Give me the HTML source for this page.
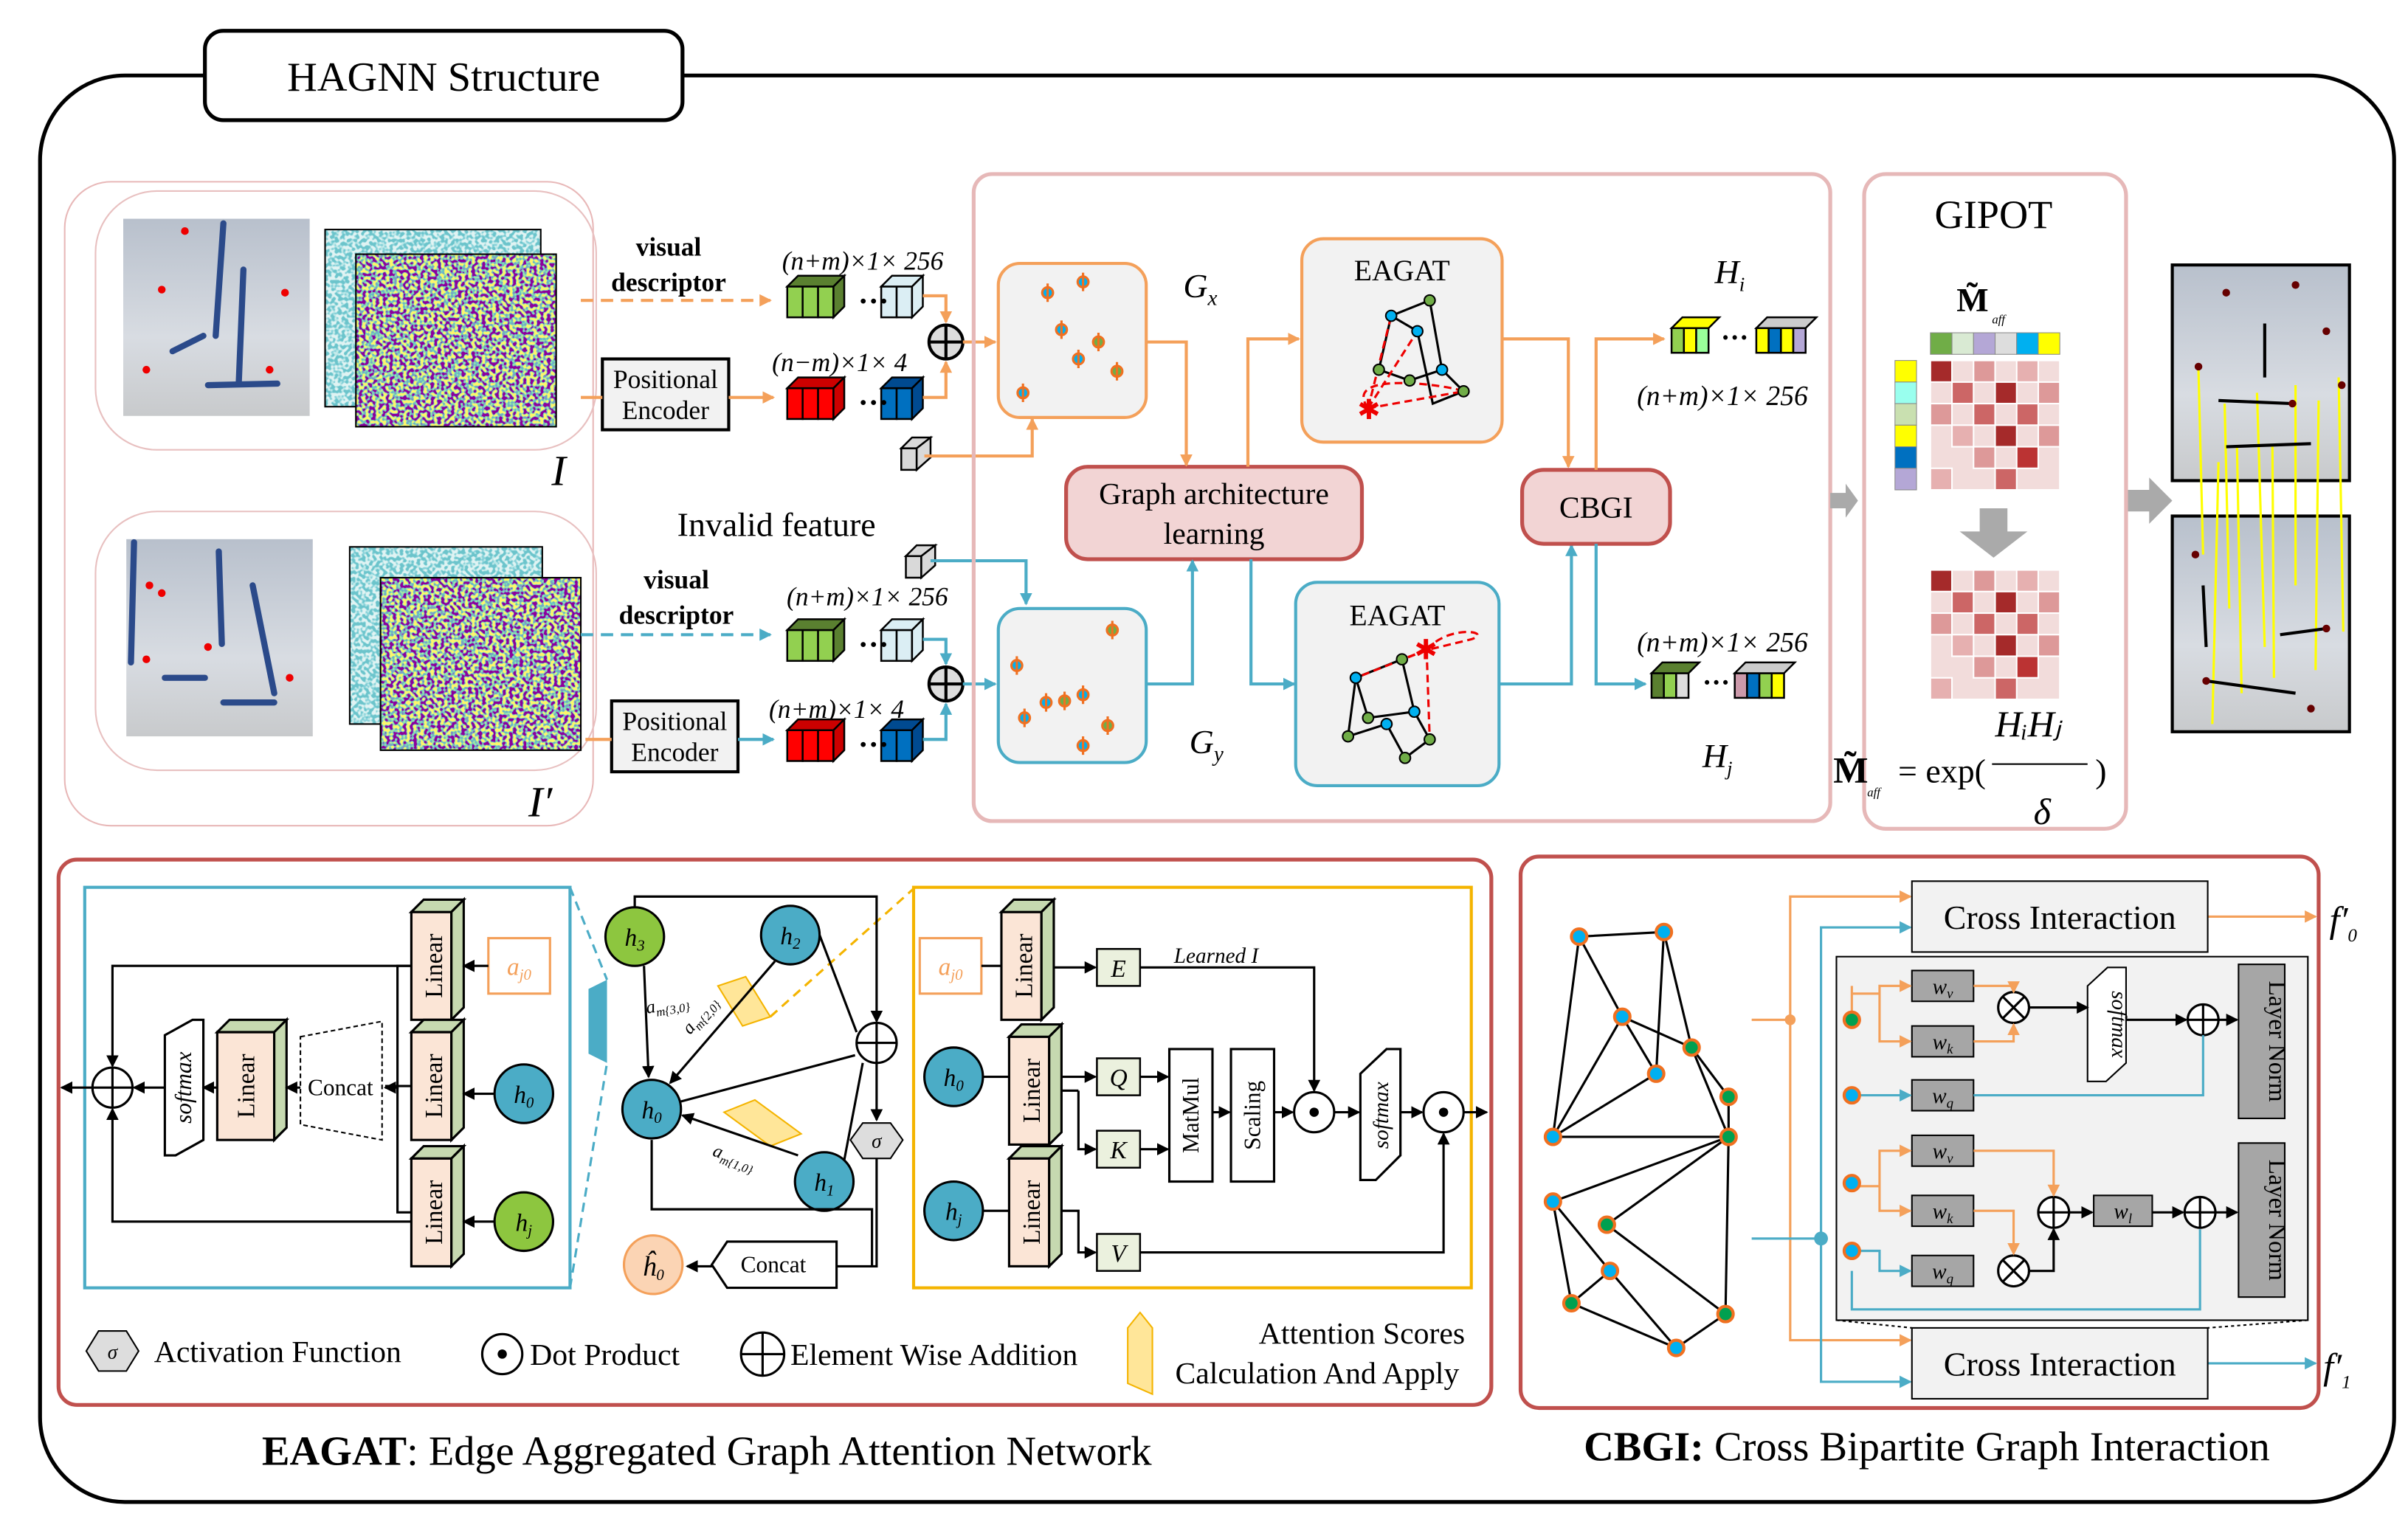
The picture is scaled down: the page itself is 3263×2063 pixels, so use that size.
<!DOCTYPE html>
<html><head><meta charset="utf-8"><style>
html,body{margin:0;padding:0;background:#fff;}
svg{display:block;}
text{font-family:"Liberation Serif",serif;}
</style></head><body>
<svg width="3263" height="2063" viewBox="0 0 1563 988" preserveAspectRatio="none" xmlns="http://www.w3.org/2000/svg">
<defs>
<filter id="nz" x="0" y="0" width="100%" height="100%">
<feTurbulence type="fractalNoise" baseFrequency="0.45" numOctaves="1" seed="3"/>
<feColorMatrix type="matrix" values="4 0 0 0 -1.5  4 0 0 0 -1.5  4 0 0 0 -1.5  0 0 0 0 1"/>
<feComponentTransfer><feFuncR type="discrete" tableValues="0.27 0.23 0.13 0.37 0.99"/><feFuncG type="discrete" tableValues="0.0 0.32 0.57 0.79 0.91"/><feFuncB type="discrete" tableValues="0.33 0.55 0.55 0.38 0.15"/></feComponentTransfer>
</filter>
<filter id="nz2" x="0" y="0" width="100%" height="100%">
<feTurbulence type="fractalNoise" baseFrequency="0.45" numOctaves="1" seed="7"/>
<feColorMatrix type="matrix" values="4 0 0 0 -1.5  4 0 0 0 -1.5  4 0 0 0 -1.5  0 0 0 0 1"/>
<feComponentTransfer><feFuncR type="discrete" tableValues="0.15 0.25 0.5 0.75"/><feFuncG type="discrete" tableValues="0.55 0.65 0.8 0.9"/><feFuncB type="discrete" tableValues="0.6 0.7 0.8 0.9"/></feComponentTransfer>
</filter>
<marker id="ao" markerWidth="8" markerHeight="8" refX="7" refY="4" orient="auto" markerUnits="userSpaceOnUse"><path d="M0,0 L8,4 L0,8z" fill="#f4a05a"/></marker>
<marker id="ab" markerWidth="8" markerHeight="8" refX="7" refY="4" orient="auto" markerUnits="userSpaceOnUse"><path d="M0,0 L8,4 L0,8z" fill="#4bacc6"/></marker>
<marker id="ak" markerWidth="8" markerHeight="8" refX="7" refY="4" orient="auto" markerUnits="userSpaceOnUse"><path d="M0,0 L8,4 L0,8z" fill="#000"/></marker>
<linearGradient id="sky" x1="0" y1="0" x2="0" y2="1"><stop offset="0" stop-color="#b8c0cc"/><stop offset="0.6" stop-color="#d8dce2"/><stop offset="1" stop-color="#c8cacc"/></linearGradient>
</defs>

<rect x="26" y="49" width="1528" height="926" rx="55" fill="none" stroke="#000" stroke-width="2.5"/>
<rect x="133" y="20" width="310" height="58" rx="12" fill="#fff" stroke="#000" stroke-width="2.5"/>
<text x="288" y="59" font-size="27" text-anchor="middle">HAGNN Structure</text>

<rect x="42" y="118" width="343" height="418" rx="30" fill="none" stroke="#e8b8b8"/>
<rect x="62" y="124" width="325" height="168" rx="40" fill="none" stroke="#e8c0c0"/>
<rect x="62" y="332" width="325" height="168" rx="40" fill="none" stroke="#e8c0c0"/>
<rect x="80" y="142" width="121" height="128" fill="url(#sky)"/>
<rect x="82" y="350" width="121" height="128" fill="url(#sky)"/>
<g stroke="#2b4a8a" stroke-width="4" stroke-linecap="round">
<line x1="145" y1="145" x2="140" y2="218"/><line x1="158" y1="175" x2="155" y2="248"/><line x1="112" y1="228" x2="132" y2="218"/><line x1="135" y1="250" x2="180" y2="249"/>
<line x1="87" y1="352" x2="85" y2="430"/><line x1="142" y1="358" x2="144" y2="418"/><line x1="164" y1="380" x2="178" y2="450"/><line x1="107" y1="440" x2="133" y2="440"/><line x1="145" y1="456" x2="178" y2="456"/>
</g>
<g fill="#e00">
<circle cx="105" cy="188" r="2.5"/><circle cx="120" cy="150" r="2.5"/><circle cx="185" cy="190" r="2.5"/><circle cx="95" cy="240" r="2.5"/><circle cx="175" cy="240" r="2.5"/>
<circle cx="97" cy="380" r="2.5"/><circle cx="105" cy="385" r="2.5"/><circle cx="135" cy="420" r="2.5"/><circle cx="188" cy="440" r="2.5"/><circle cx="95" cy="428" r="2.5"/>
</g>
<rect x="211" y="149" width="140" height="115" fill="#3a9aa8" filter="url(#nz2)"/><rect x="211" y="149" width="140" height="115" fill="none" stroke="#000"/>
<rect x="231" y="165" width="130" height="112" fill="#444" filter="url(#nz)"/><rect x="231" y="165" width="130" height="112" fill="none" stroke="#000"/>
<rect x="227" y="355" width="125" height="115" fill="#3a9aa8" filter="url(#nz2)"/><rect x="227" y="355" width="125" height="115" fill="none" stroke="#000"/>
<rect x="247" y="375" width="130" height="112" fill="#444" filter="url(#nz)"/><rect x="247" y="375" width="130" height="112" fill="none" stroke="#000"/>
<text x="358" y="315" font-size="28" font-style="italic">I</text>
<text x="343" y="530" font-size="28" font-style="italic">I′</text>

<text x="434" y="166" font-size="17" font-weight="bold" text-anchor="middle">visual</text>
<text x="434" y="189" font-size="17" font-weight="bold" text-anchor="middle">descriptor</text>
<line x1="377" y1="195" x2="500" y2="195" stroke="#f4a05a" stroke-width="2" stroke-dasharray="8,5" marker-end="url(#ao)"/>
<rect x="391" y="233" width="82" height="46" fill="#f2f2f2" stroke="#000" stroke-width="2"/>
<text x="432" y="252" font-size="17" text-anchor="middle">Positional</text>
<text x="432" y="272" font-size="17" text-anchor="middle">Encoder</text>
<line x1="377" y1="258" x2="391" y2="258" stroke="#f4a05a" stroke-width="2"/>
<line x1="473" y1="258" x2="502" y2="258" stroke="#f4a05a" stroke-width="2" marker-end="url(#ao)"/>
<text x="560" y="175" font-size="17" font-style="italic" text-anchor="middle">(n+m)×1× 256</text>
<text x="545" y="241" font-size="17" font-style="italic" text-anchor="middle">(n−m)×1× 4</text>
<g stroke="#000" stroke-width="1.2">
<rect x="511" y="186" width="10" height="20" fill="#92d050"/><rect x="521" y="186" width="10" height="20" fill="#92d050"/><rect x="531" y="186" width="10" height="20" fill="#92d050"/><polygon points="511,186 518,179 548,179 541,186" fill="#5a8030"/><polygon points="541,186 548,179 548,199 541,206" fill="#5a8030"/>
<rect x="572" y="186" width="10" height="20" fill="#dbeef4"/><rect x="582" y="186" width="10" height="20" fill="#dbeef4"/><polygon points="572,186 579,179 599,179 592,186" fill="#dbeef4"/><polygon points="592,186 599,179 599,199 592,206" fill="#dbeef4"/>
<rect x="511" y="252" width="10" height="20" fill="#f00"/><rect x="521" y="252" width="10" height="20" fill="#f00"/><rect x="531" y="252" width="10" height="20" fill="#f00"/><polygon points="511,252 518,245 548,245 541,252" fill="#c00"/><polygon points="541,252 548,245 548,265 541,272" fill="#c00"/>
<rect x="572" y="252" width="10" height="20" fill="#0070c0"/><rect x="582" y="252" width="10" height="20" fill="#0070c0"/><polygon points="572,252 579,245 599,245 592,252" fill="#004a90"/><polygon points="592,252 599,245 599,265 592,272" fill="#004a90"/>
</g>
<text x="557" y="202" font-size="20" font-weight="bold">···</text>
<text x="557" y="268" font-size="20" font-weight="bold">···</text>
<circle cx="614" cy="222" r="11" fill="#ddd" stroke="#000" stroke-width="2"/><path d="M603,222h22M614,211v22" stroke="#000" stroke-width="2"/>
<polyline points="599,192 614,192 614,209" fill="none" stroke="#f4a05a" stroke-width="2" marker-end="url(#ao)"/>
<polyline points="599,258 614,258 614,235" fill="none" stroke="#f4a05a" stroke-width="2" marker-end="url(#ao)"/>
<line x1="625" y1="222" x2="646" y2="222" stroke="#f4a05a" stroke-width="2" marker-end="url(#ao)"/>
<g stroke="#000" stroke-width="1.2" fill="#d9d9d9"><rect x="585" y="291" width="10" height="14"/><polygon points="585,291 592,284 604,284 595,291"/><polygon points="595,291 604,284 604,297 595,305"/></g>
<polyline points="600,296 670,296 670,272" fill="none" stroke="#f4a05a" stroke-width="2" marker-end="url(#ao)"/>

<text x="504" y="348" font-size="22" text-anchor="middle">Invalid feature</text>
<text x="439" y="382" font-size="17" font-weight="bold" text-anchor="middle">visual</text>
<text x="439" y="405" font-size="17" font-weight="bold" text-anchor="middle">descriptor</text>
<line x1="377" y1="412" x2="500" y2="412" stroke="#4bacc6" stroke-width="2" stroke-dasharray="8,5" marker-end="url(#ab)"/>
<rect x="397" y="455" width="82" height="46" fill="#f2f2f2" stroke="#000" stroke-width="2"/>
<text x="438" y="474" font-size="17" text-anchor="middle">Positional</text>
<text x="438" y="494" font-size="17" text-anchor="middle">Encoder</text>
<line x1="380" y1="480" x2="397" y2="480" stroke="#f4a05a" stroke-width="2"/>
<line x1="479" y1="480" x2="502" y2="480" stroke="#4bacc6" stroke-width="2" marker-end="url(#ab)"/>
<text x="563" y="393" font-size="17" font-style="italic" text-anchor="middle">(n+m)×1× 256</text>
<text x="543" y="466" font-size="17" font-style="italic" text-anchor="middle">(n+m)×1× 4</text>
<g stroke="#000" stroke-width="1.2">
<rect x="511" y="409" width="10" height="20" fill="#92d050"/><rect x="521" y="409" width="10" height="20" fill="#92d050"/><rect x="531" y="409" width="10" height="20" fill="#92d050"/><polygon points="511,409 518,402 548,402 541,409" fill="#5a8030"/><polygon points="541,409 548,402 548,422 541,429" fill="#5a8030"/>
<rect x="572" y="409" width="10" height="20" fill="#dbeef4"/><rect x="582" y="409" width="10" height="20" fill="#dbeef4"/><polygon points="572,409 579,402 599,402 592,409" fill="#dbeef4"/><polygon points="592,409 599,402 599,422 592,429" fill="#dbeef4"/>
<rect x="511" y="474" width="10" height="20" fill="#f00"/><rect x="521" y="474" width="10" height="20" fill="#f00"/><rect x="531" y="474" width="10" height="20" fill="#f00"/><polygon points="511,474 518,467 548,467 541,474" fill="#c00"/><polygon points="541,474 548,467 548,487 541,494" fill="#c00"/>
<rect x="572" y="474" width="10" height="20" fill="#0070c0"/><rect x="582" y="474" width="10" height="20" fill="#0070c0"/><polygon points="572,474 579,467 599,467 592,474" fill="#004a90"/><polygon points="592,474 599,467 599,487 592,494" fill="#004a90"/>
<g fill="#d9d9d9"><rect x="588" y="361" width="10" height="14"/><polygon points="588,361 595,354 607,354 598,361"/><polygon points="598,361 607,354 607,367 598,375"/></g>
</g>
<text x="557" y="425" font-size="20" font-weight="bold">···</text>
<text x="557" y="490" font-size="20" font-weight="bold">···</text>
<circle cx="614" cy="444" r="11" fill="#ddd" stroke="#000" stroke-width="2"/><path d="M603,444h22M614,433v22" stroke="#000" stroke-width="2"/>
<polyline points="599,415 614,415 614,431" fill="none" stroke="#4bacc6" stroke-width="2" marker-end="url(#ab)"/>
<polyline points="599,480 614,480 614,457" fill="none" stroke="#4bacc6" stroke-width="2" marker-end="url(#ab)"/>
<line x1="625" y1="444" x2="646" y2="444" stroke="#4bacc6" stroke-width="2" marker-end="url(#ab)"/>
<polyline points="604,364 666,364 666,392" fill="none" stroke="#4bacc6" stroke-width="2" marker-end="url(#ab)"/>

<rect x="632" y="113" width="556" height="420" rx="12" fill="none" stroke="#e6b8b8" stroke-width="2.5"/>
<rect x="648" y="171" width="96" height="100" rx="14" fill="#f2f2f2" stroke="#f4a05a" stroke-width="2"/>
<rect x="648" y="395" width="96" height="100" rx="14" fill="#f2f2f2" stroke="#4bacc6" stroke-width="2"/>
<g stroke="#f07020" stroke-width="1.5">
<g fill="#00b0f0"><circle cx="680" cy="190" r="3.5"/><circle cx="703" cy="183" r="3.5"/><circle cx="689" cy="214" r="3.5"/><circle cx="700" cy="233" r="3.5"/><circle cx="664" cy="255" r="3.5"/><circle cx="660" cy="432" r="3.5"/><circle cx="679" cy="456" r="3.5"/><circle cx="703" cy="451" r="3.5"/><circle cx="665" cy="466" r="3.5"/><circle cx="703" cy="484" r="3.5"/></g>
<g fill="#70ad47"><circle cx="713" cy="222" r="3.5"/><circle cx="725" cy="241" r="3.5"/><circle cx="722" cy="409" r="3.5"/><circle cx="719" cy="471" r="3.5"/><circle cx="691" cy="455" r="3.5"/></g>
</g>
<g stroke="#f07020" stroke-width="1.5"><path d="M680,184v12M703,177v12M689,208v12M700,227v12M664,249v12M713,216v12M725,235v12M660,426v12M679,450v12M703,445v12M665,460v12M703,478v12M722,403v12M719,465v12M691,449v12"/></g>
<text x="768" y="193" font-size="22" font-style="italic">G<tspan font-size="14" dy="5">x</tspan></text>
<text x="772" y="489" font-size="22" font-style="italic">G<tspan font-size="14" dy="5">y</tspan></text>
<rect x="692" y="303" width="192" height="60" rx="14" fill="#f2d4d4" stroke="#c0504d" stroke-width="2.5"/>
<text x="788" y="327" font-size="20" text-anchor="middle">Graph architecture</text>
<text x="788" y="353" font-size="20" text-anchor="middle">learning</text>
<polyline points="744,222 770,222 770,302" fill="none" stroke="#f4a05a" stroke-width="2" marker-end="url(#ao)"/>
<polyline points="744,444 774,444 774,364" fill="none" stroke="#4bacc6" stroke-width="2" marker-end="url(#ab)"/>
<polyline points="810,303 810,220 843,220" fill="none" stroke="#f4a05a" stroke-width="2" marker-end="url(#ao)"/>
<polyline points="812,363 812,444 840,444" fill="none" stroke="#4bacc6" stroke-width="2" marker-end="url(#ab)"/>
<rect x="845" y="155" width="130" height="132" rx="14" fill="#f2f2f2" stroke="#f4a05a" stroke-width="2"/>
<rect x="841" y="378" width="132" height="132" rx="14" fill="#f2f2f2" stroke="#4bacc6" stroke-width="2"/>
<text x="910" y="182" font-size="19" text-anchor="middle">EAGAT</text>
<text x="907" y="406" font-size="19" text-anchor="middle">EAGAT</text>
<g stroke="#000" stroke-width="1.5" fill="none"><path d="M903,205 L928,195 L936,240 L950,254 L930,262 L920,215 L903,205 L895,240 L915,247 L936,240"/><path d="M880,440 L910,428 L918,462 L928,480 L912,492 L900,470 L875,478 L880,440 L888,466 L918,462"/></g>
<g stroke="#e00" stroke-width="1.5" fill="none" stroke-dasharray="5,3"><path d="M888,265 L903,205 M888,265 L920,215 M888,265 L950,254 M888,265 C870,240 940,250 950,254"/><path d="M926,422 L880,440 M926,422 L910,428 M926,422 L928,480 M926,422 C940,405 970,410 955,415 Z"/></g>
<g stroke="#000" stroke-width="1"><g fill="#00b0f0"><circle cx="903" cy="205" r="3.5"/><circle cx="920" cy="215" r="3.5"/><circle cx="936" cy="240" r="3.5"/><circle cx="880" cy="440" r="3.5"/><circle cx="918" cy="462" r="3.5"/><circle cx="900" cy="470" r="3.5"/></g><g fill="#70ad47"><circle cx="928" cy="195" r="3.5"/><circle cx="950" cy="254" r="3.5"/><circle cx="895" cy="240" r="3.5"/><circle cx="915" cy="247" r="3.5"/><circle cx="910" cy="428" r="3.5"/><circle cx="928" cy="480" r="3.5"/><circle cx="875" cy="478" r="3.5"/><circle cx="888" cy="466" r="3.5"/><circle cx="912" cy="492" r="3.5"/></g></g>
<text x="881" y="272" font-size="18" fill="#e00">✱</text><text x="918" y="428" font-size="18" fill="#e00">✱</text>
<polyline points="975,220 1018,220 1018,303" fill="none" stroke="#f4a05a" stroke-width="2" marker-end="url(#ao)"/>
<polyline points="973,444 1020,444 1020,354" fill="none" stroke="#4bacc6" stroke-width="2" marker-end="url(#ab)"/>
<rect x="988" y="305" width="96" height="48" rx="14" fill="#f2d4d4" stroke="#c0504d" stroke-width="2.5"/>
<text x="1036" y="336" font-size="20" text-anchor="middle">CBGI</text>
<polyline points="1036,305 1036,220 1080,220" fill="none" stroke="#f4a05a" stroke-width="2" marker-end="url(#ao)"/>
<polyline points="1036,353 1036,444 1068,444" fill="none" stroke="#4bacc6" stroke-width="2" marker-end="url(#ab)"/>
<text x="1113" y="184" font-size="22" font-style="italic">H<tspan font-size="13" dy="5">i</tspan></text>
<text x="1105" y="498" font-size="22" font-style="italic">H<tspan font-size="13" dy="5">j</tspan></text>
<text x="1118" y="263" font-size="18" font-style="italic" text-anchor="middle">(n+m)×1× 256</text>
<text x="1118" y="423" font-size="18" font-style="italic" text-anchor="middle">(n+m)×1× 256</text>
<g stroke="#000" stroke-width="1.2">
<rect x="1085" y="213" width="8" height="16" fill="#92d050"/><rect x="1093" y="213" width="8" height="16" fill="#ff0"/><rect x="1101" y="213" width="8" height="16" fill="#9f9"/><polygon points="1085,213 1092,206 1116,206 1109,213" fill="#ff0"/>
<rect x="1140" y="213" width="8" height="16" fill="#ff0"/><rect x="1148" y="213" width="8" height="16" fill="#0070c0"/><rect x="1156" y="213" width="8" height="16" fill="#ff0"/><rect x="1164" y="213" width="8" height="16" fill="#b4a7d6"/><polygon points="1140,213 1147,206 1179,206 1172,213" fill="#ccc"/>
<rect x="1072" y="437" width="8" height="16" fill="#5a8030"/><rect x="1080" y="437" width="8" height="16" fill="#92d050"/><rect x="1088" y="437" width="8" height="16" fill="#ddd"/><polygon points="1072,437 1079,430 1103,430 1096,437" fill="#5a8030"/>
<rect x="1126" y="437" width="8" height="16" fill="#c9a"/><rect x="1134" y="437" width="8" height="16" fill="#0070c0"/><rect x="1142" y="437" width="8" height="16" fill="#92d050"/><rect x="1150" y="437" width="8" height="16" fill="#ff0"/><polygon points="1126,437 1133,430 1165,430 1158,437" fill="#ccc"/>
</g>
<text x="1117" y="225" font-size="18" font-weight="bold">···</text>
<text x="1105" y="449" font-size="18" font-weight="bold">···</text>

<polygon points="1188,320 1198,320 1198,314 1206,325 1198,336 1198,330 1188,330" fill="#aaa"/>
<polygon points="1380,318 1395,318 1395,310 1410,325 1395,340 1395,332 1380,332" fill="#aaa"/>

<rect x="1210" y="113" width="170" height="425" rx="14" fill="none" stroke="#e6b8b8" stroke-width="2.5"/>
<text x="1294" y="148" font-size="26" text-anchor="middle">GIPOT</text>
<text x="1270" y="202" font-size="22" font-weight="bold">M̃</text><text x="1293" y="210" font-size="8" font-style="italic">aff</text>
<g stroke="#888" stroke-width="0.5">
<rect x="1253" y="216" width="14" height="14" fill="#70ad47"/><rect x="1267" y="216" width="14" height="14" fill="#d9ead3"/><rect x="1281" y="216" width="14" height="14" fill="#b4a7d6"/><rect x="1295" y="216" width="14" height="14" fill="#ddd"/><rect x="1309" y="216" width="14" height="14" fill="#00b0f0"/><rect x="1323" y="216" width="14" height="14" fill="#ff0"/>
<rect x="1230" y="234" width="14" height="14" fill="#ff0"/><rect x="1230" y="248" width="14" height="14" fill="#9fe"/><rect x="1230" y="262" width="14" height="14" fill="#c9e0b0"/><rect x="1230" y="276" width="14" height="14" fill="#ff0"/><rect x="1230" y="290" width="14" height="14" fill="#0070c0"/><rect x="1230" y="304" width="14" height="14" fill="#b4a7d6"/>
</g>
<g id="mat" stroke="#fff" stroke-width="1">
<rect x="1253" y="234" width="84" height="84" fill="#f2dcdb"/>
<rect x="1253" y="234" width="14" height="14" fill="#a52a2a"/><rect x="1281" y="234" width="14" height="14" fill="#d99"/><rect x="1309" y="234" width="14" height="14" fill="#e6b0b0"/><rect x="1267" y="248" width="14" height="14" fill="#c66"/><rect x="1295" y="248" width="14" height="14" fill="#a52a2a"/><rect x="1323" y="248" width="14" height="14" fill="#d99"/><rect x="1253" y="262" width="14" height="14" fill="#d99"/><rect x="1281" y="262" width="14" height="14" fill="#c66"/><rect x="1309" y="262" width="14" height="14" fill="#c66"/><rect x="1267" y="276" width="14" height="14" fill="#e6b0b0"/><rect x="1295" y="276" width="14" height="14" fill="#a52a2a"/><rect x="1323" y="276" width="14" height="14" fill="#d99"/><rect x="1281" y="290" width="14" height="14" fill="#d99"/><rect x="1309" y="290" width="14" height="14" fill="#b33"/><rect x="1253" y="304" width="14" height="14" fill="#e6b0b0"/><rect x="1295" y="304" width="14" height="14" fill="#c66"/>
</g>
<polygon points="1285,330 1303,330 1303,345 1316,345 1294,362 1272,345 1285,345" fill="#aaa"/>
<use href="#mat" transform="translate(0,136)"/>
<text x="1190" y="508" font-size="24" font-weight="bold">M̃</text><text x="1212" y="517" font-size="8" font-style="italic">aff</text>
<text x="1232" y="508" font-size="22">= exp(</text><text x="1360" y="508" font-size="22">)</text>
<text x="1295" y="478" font-size="24" font-style="italic">HᵢHⱼ</text>
<line x1="1293" y1="496" x2="1355" y2="496" stroke="#000" stroke-width="1"/>
<text x="1320" y="535" font-size="24" font-style="italic">δ</text>

<rect x="1410" y="172" width="115" height="140" fill="url(#sky)" stroke="#000" stroke-width="2"/>
<rect x="1410" y="335" width="115" height="140" fill="url(#sky)" stroke="#000" stroke-width="2"/>
<g stroke="#ff0" stroke-width="1.5"><line x1="1427" y1="240" x2="1430" y2="360"/><line x1="1444" y1="262" x2="1447" y2="395"/><line x1="1452" y1="290" x2="1455" y2="450"/><line x1="1465" y1="255" x2="1470" y2="420"/><line x1="1490" y1="250" x2="1490" y2="380"/><line x1="1505" y1="260" x2="1503" y2="435"/><line x1="1518" y1="245" x2="1521" y2="410"/><line x1="1440" y1="300" x2="1436" y2="470"/><line x1="1475" y1="290" x2="1476" y2="440"/></g>
<g stroke="#000" stroke-width="2"><line x1="1440" y1="260" x2="1488" y2="262"/><line x1="1445" y1="290" x2="1500" y2="288"/><line x1="1470" y1="210" x2="1470" y2="245"/><line x1="1432" y1="442" x2="1490" y2="450"/><line x1="1480" y1="412" x2="1510" y2="408"/><line x1="1430" y1="380" x2="1432" y2="420"/></g>
<g fill="#600"><circle cx="1427" cy="238" r="2.5"/><circle cx="1488" cy="262" r="2.5"/><circle cx="1510" cy="215" r="2.5"/><circle cx="1490" cy="185" r="2.5"/><circle cx="1445" cy="190" r="2.5"/><circle cx="1520" cy="250" r="2.5"/><circle cx="1432" cy="442" r="2.5"/><circle cx="1510" cy="408" r="2.5"/><circle cx="1425" cy="360" r="2.5"/><circle cx="1500" cy="460" r="2.5"/></g>

<rect x="38" y="558" width="930" height="354" rx="12" fill="none" stroke="#c0504d" stroke-width="2.5"/>
<rect x="55" y="576" width="315" height="260" fill="none" stroke="#4bacc6" stroke-width="2"/>
<rect x="593" y="576" width="362" height="260" fill="none" stroke="#f4b400" stroke-width="2"/>
<g stroke="#000" stroke-width="1.5">
<g fill="#fbe5d6"><rect x="267" y="592" width="26" height="70"/><rect x="267" y="670" width="26" height="70"/><rect x="267" y="752" width="26" height="70"/><rect x="141" y="670" width="37" height="70"/></g>
<g fill="#c6d9b0"><polygon points="267,592 275,584 301,584 293,592"/><polygon points="293,592 301,584 301,654 293,662"/><polygon points="267,670 275,662 301,662 293,670"/><polygon points="293,670 301,662 301,732 293,740"/><polygon points="267,752 275,744 301,744 293,752"/><polygon points="293,752 301,744 301,814 293,822"/><polygon points="141,670 149,662 186,662 178,670"/><polygon points="178,670 186,662 186,732 178,740"/></g>
</g>
<g font-size="16" text-anchor="middle"><text transform="translate(287,627) rotate(-90)">Linear</text><text transform="translate(287,705) rotate(-90)">Linear</text><text transform="translate(287,787) rotate(-90)">Linear</text><text transform="translate(165,705) rotate(-90)">Linear</text></g>
<rect x="317" y="609" width="40" height="36" fill="#fff" stroke="#f4a05a" stroke-width="1.5"/><text x="337" y="633" font-size="16" font-style="italic" fill="#f4a05a" text-anchor="middle">a<tspan font-size="10" dy="3">j0</tspan></text>
<circle cx="340" cy="710" r="19" fill="#4bacc6" stroke="#000" stroke-width="1.5"/><text x="340" y="716" font-size="16" font-style="italic" text-anchor="middle">h<tspan font-size="10" dy="3">0</tspan></text>
<circle cx="340" cy="793" r="19" fill="#8dc63f" stroke="#000" stroke-width="1.5"/><text x="340" y="799" font-size="16" font-style="italic" text-anchor="middle">h<tspan font-size="10" dy="3">j</tspan></text>
<polygon points="195,673 248,663 248,740 195,730" fill="#fff" stroke="#000" stroke-width="1" stroke-dasharray="3,2"/>
<text x="221" y="711" font-size="15" text-anchor="middle">Concat</text>
<polygon points="107,672 125,662 132,662 132,740 114,750 107,750" fill="#fff" stroke="#000" stroke-width="1.5"/>
<text transform="translate(124,706) rotate(-90)" font-size="15" font-style="italic" text-anchor="middle">softmax</text>
<circle cx="73" cy="706" r="13" fill="#fff" stroke="#000" stroke-width="1.5"/><path d="M60,706h26M73,693v26" stroke="#000" stroke-width="1.5"/>
<g stroke="#000" stroke-width="1.5" fill="none">
<line x1="317" y1="627" x2="301" y2="627" marker-end="url(#ak)"/><line x1="321" y1="710" x2="301" y2="710" marker-end="url(#ak)"/><line x1="321" y1="793" x2="301" y2="793" marker-end="url(#ak)"/>
<polyline points="267,627 258,627 258,706 250,706" marker-end="url(#ak)"/><polyline points="267,705 250,705"/><polyline points="267,787 258,787 258,706"/>
<line x1="195" y1="706" x2="186" y2="706" marker-end="url(#ak)"/><line x1="141" y1="706" x2="132" y2="706" marker-end="url(#ak)"/><line x1="107" y1="706" x2="87" y2="706" marker-end="url(#ak)"/>
<polyline points="267,627 73,627 73,692" marker-end="url(#ak)"/><polyline points="267,793 73,793 73,720" marker-end="url(#ak)"/>
<line x1="60" y1="706" x2="40" y2="706" marker-end="url(#ak)"/>
</g>
<polygon points="382,642 394,636 394,690 382,684" fill="#4bacc6"/>
<line x1="370" y1="576" x2="394" y2="636" stroke="#4bacc6" stroke-width="1.5" stroke-dasharray="6,4"/>
<line x1="370" y1="836" x2="394" y2="690" stroke="#4bacc6" stroke-width="1.5" stroke-dasharray="6,4"/>
<line x1="594" y1="576" x2="500" y2="660" stroke="#f4b400" stroke-width="1.5" stroke-dasharray="6,4"/>
<circle cx="412" cy="608" r="19" fill="#8dc63f" stroke="#000" stroke-width="1.5"/><text x="412" y="614" font-size="16" font-style="italic" text-anchor="middle">h<tspan font-size="10" dy="3">3</tspan></text>
<circle cx="513" cy="607" r="19" fill="#4bacc6" stroke="#000" stroke-width="1.5"/><text x="513" y="613" font-size="16" font-style="italic" text-anchor="middle">h<tspan font-size="10" dy="3">2</tspan></text>
<circle cx="423" cy="720" r="19" fill="#4bacc6" stroke="#000" stroke-width="1.5"/><text x="423" y="726" font-size="16" font-style="italic" text-anchor="middle">h<tspan font-size="10" dy="3">0</tspan></text>
<circle cx="535" cy="767" r="19" fill="#4bacc6" stroke="#000" stroke-width="1.5"/><text x="535" y="773" font-size="16" font-style="italic" text-anchor="middle">h<tspan font-size="10" dy="3">1</tspan></text>
<circle cx="424" cy="821" r="19" fill="#fbd4b4" stroke="#f4a05a" stroke-width="1.5"/><text x="424" y="828" font-size="18" font-style="italic" text-anchor="middle">ĥ<tspan font-size="10" dy="3">0</tspan></text>
<polygon points="466,640 484,634 500,660 482,666" fill="#ffe699" stroke="#f4b400"/>
<polygon points="470,722 490,714 520,736 500,744" fill="#ffe699" stroke="#f4b400"/>
<g stroke="#000" stroke-width="1.5" fill="none">
<line x1="418" y1="627" x2="421" y2="699" marker-end="url(#ak)"/><line x1="503" y1="624" x2="435" y2="703" marker-end="url(#ak)"/><line x1="518" y1="750" x2="443" y2="724" marker-end="url(#ak)"/>
<line x1="442" y1="715" x2="555" y2="685" /><polyline points="412,589 412,582 569,582 569,663" marker-end="url(#ak)"/><line x1="532" y1="607" x2="556" y2="670"/><line x1="548" y1="753" x2="560" y2="690"/>
<line x1="569" y1="690" x2="569" y2="727" marker-end="url(#ak)"/><polyline points="569,752 569,822 543,822"/>
<polyline points="423,740 423,785 566,785 566,822" /><line x1="466" y1="822" x2="446" y2="822" marker-end="url(#ak)"/>
</g>
<circle cx="569" cy="677" r="13" fill="#fff" stroke="#000" stroke-width="1.5"/><path d="M556,677h26M569,664v26" stroke="#000" stroke-width="1.5"/>
<polygon points="560,729 578,729 586,740 578,752 560,752 552,740" fill="#ddd" stroke="#000"/><text x="569" y="745" font-size="13" font-style="italic" text-anchor="middle">σ</text>
<polygon points="472,806 543,806 543,836 472,836 462,821" fill="#fff" stroke="#000" stroke-width="1.5"/><text x="502" y="826" font-size="15" text-anchor="middle">Concat</text>
<text x="420" y="658" font-size="12" font-style="italic" transform="rotate(-10 420 658)">a<tspan font-size="8" dy="3">m{3,0}</tspan></text>
<text x="448" y="672" font-size="12" font-style="italic" transform="rotate(-50 448 672)">a<tspan font-size="8" dy="3">m{2,0}</tspan></text>
<text x="462" y="750" font-size="12" font-style="italic" transform="rotate(20 462 750)">a<tspan font-size="8" dy="3">m{1,0}</tspan></text>
<g stroke="#000" stroke-width="1.5">
<g fill="#fbe5d6"><rect x="650" y="592" width="26" height="70"/><rect x="655" y="673" width="26" height="70"/><rect x="655" y="752" width="26" height="70"/></g>
<g fill="#c6d9b0"><polygon points="650,592 658,584 684,584 676,592"/><polygon points="676,592 684,584 684,654 676,662"/><polygon points="655,673 663,665 689,665 681,673"/><polygon points="681,673 689,665 689,735 681,743"/><polygon points="655,752 663,744 689,744 681,752"/><polygon points="681,752 689,744 689,814 681,822"/></g>
</g>
<g font-size="16" text-anchor="middle"><text transform="translate(670,627) rotate(-90)">Linear</text><text transform="translate(675,708) rotate(-90)">Linear</text><text transform="translate(675,787) rotate(-90)">Linear</text></g>
<rect x="597" y="609" width="40" height="36" fill="#fff" stroke="#f4a05a" stroke-width="1.5"/><text x="617" y="633" font-size="16" font-style="italic" fill="#f4a05a" text-anchor="middle">a<tspan font-size="10" dy="3">j0</tspan></text>
<circle cx="619" cy="699" r="19" fill="#4bacc6" stroke="#000" stroke-width="1.5"/><text x="619" y="705" font-size="16" font-style="italic" text-anchor="middle">h<tspan font-size="10" dy="3">0</tspan></text>
<circle cx="619" cy="786" r="19" fill="#4bacc6" stroke="#000" stroke-width="1.5"/><text x="619" y="792" font-size="16" font-style="italic" text-anchor="middle">h<tspan font-size="10" dy="3">j</tspan></text>
<g fill="#ebf1de" stroke="#000" stroke-width="1.2"><rect x="712" y="616" width="28" height="24"/><rect x="712" y="687" width="28" height="24"/><rect x="712" y="734" width="28" height="24"/><rect x="712" y="801" width="28" height="24"/></g>
<g font-size="16" font-style="italic" text-anchor="middle"><text x="726" y="634">E</text><text x="726" y="705">Q</text><text x="726" y="752">K</text><text x="726" y="819">V</text></g>
<rect x="759" y="681" width="28" height="86" fill="#fff" stroke="#000" stroke-width="1.5"/><text transform="translate(778,724) rotate(-90)" font-size="15" text-anchor="middle">MatMul</text>
<rect x="799" y="681" width="28" height="86" fill="#fff" stroke="#000" stroke-width="1.5"/><text transform="translate(818,724) rotate(-90)" font-size="15" text-anchor="middle">Scaling</text>
<polygon points="883,697 900,681 909,681 909,750 893,766 883,766" fill="#fff" stroke="#000" stroke-width="1.5"/><text transform="translate(901,724) rotate(-90)" font-size="14" font-style="italic" text-anchor="middle">softmax</text>
<circle cx="853" cy="722" r="13" fill="#fff" stroke="#000" stroke-width="1.5"/><circle cx="853" cy="722" r="3" fill="#000"/>
<circle cx="937" cy="722" r="13" fill="#fff" stroke="#000" stroke-width="1.5"/><circle cx="937" cy="722" r="3" fill="#000"/>
<text x="762" y="625" font-size="14" font-style="italic">Learned I</text>
<g stroke="#000" stroke-width="1.5" fill="none">
<line x1="637" y1="627" x2="650" y2="627"/><line x1="684" y1="628" x2="711" y2="628" marker-end="url(#ak)"/><polyline points="740,628 853,628 853,708" marker-end="url(#ak)"/>
<line x1="638" y1="699" x2="655" y2="699"/><line x1="689" y1="699" x2="711" y2="699" marker-end="url(#ak)"/><line x1="689" y1="708" x2="700" y2="708"/><polyline points="700,708 700,746 711,746" marker-end="url(#ak)"/>
<line x1="638" y1="786" x2="655" y2="786"/><polyline points="689,786 700,786 700,813 711,813" marker-end="url(#ak)"/>
<line x1="740" y1="699" x2="758" y2="699" marker-end="url(#ak)"/><line x1="740" y1="746" x2="758" y2="746" marker-end="url(#ak)"/>
<line x1="787" y1="722" x2="798" y2="722" marker-end="url(#ak)"/><line x1="827" y1="722" x2="839" y2="722" marker-end="url(#ak)"/><line x1="866" y1="722" x2="882" y2="722" marker-end="url(#ak)"/><line x1="909" y1="722" x2="923" y2="722" marker-end="url(#ak)"/>
<polyline points="740,813 937,813 937,736" marker-end="url(#ak)"/><line x1="950" y1="722" x2="965" y2="722" marker-end="url(#ak)"/>
</g>
<polygon points="64,864 82,864 90,877 82,890 64,890 56,877" fill="#ddd" stroke="#000"/><text x="73" y="882" font-size="13" font-style="italic" text-anchor="middle">σ</text>
<text x="100" y="884" font-size="20" font-family="Liberation Sans, sans-serif">Activation Function</text>
<circle cx="326" cy="879" r="13" fill="#fff" stroke="#000" stroke-width="1.5"/><circle cx="326" cy="879" r="3" fill="#000"/>
<text x="344" y="886" font-size="20" font-family="Liberation Sans, sans-serif">Dot Product</text>
<circle cx="495" cy="879" r="14" fill="#fff" stroke="#000" stroke-width="1.5"/><path d="M481,879h28M495,865v28" stroke="#000" stroke-width="1.5"/>
<text x="513" y="886" font-size="20" font-family="Liberation Sans, sans-serif">Element Wise Addition</text>
<polygon points="732,862 740,852 748,862 748,905 732,898" fill="#ffe699" stroke="#f4b400"/>
<text x="884" y="872" font-size="20" text-anchor="middle" font-family="Liberation Sans, sans-serif">Attention Scores</text>
<text x="855" y="898" font-size="20" text-anchor="middle" font-family="Liberation Sans, sans-serif">Calculation And Apply</text>
<text x="170" y="951" font-size="27"><tspan font-weight="bold">EAGAT</tspan>: Edge Aggregated Graph Attention Network</text>

<rect x="987" y="556" width="518" height="358" rx="12" fill="none" stroke="#c0504d" stroke-width="2.5"/>
<g stroke="#000" stroke-width="1.5" fill="none">
<path d="M1025,608 L1080,605 L1098,680 L1053,660 L1025,608 L1008,738 L1053,660 L1075,697 L1008,738 L1122,738 L1098,680 L1080,605 L1075,697 M1122,738 L1008,780 L1045,825 L1020,846 L1008,780 M1122,738 L1043,795 L1120,853 L1088,875 L1045,825 M1122,738 L1120,853 M1020,846 L1088,875 M1098,680 L1122,712 L1122,738"/>
</g>
<g stroke="#f07020" stroke-width="2">
<g fill="#00b0f0"><circle cx="1025" cy="608" r="5"/><circle cx="1080" cy="605" r="5"/><circle cx="1053" cy="660" r="5"/><circle cx="1075" cy="697" r="5"/><circle cx="1008" cy="738" r="5"/><circle cx="1008" cy="780" r="5"/><circle cx="1045" cy="825" r="5"/><circle cx="1088" cy="875" r="5"/></g>
<g fill="#00a050"><circle cx="1098" cy="680" r="5"/><circle cx="1122" cy="712" r="5"/><circle cx="1122" cy="738" r="5"/><circle cx="1043" cy="795" r="5"/><circle cx="1020" cy="846" r="5"/><circle cx="1120" cy="853" r="5"/></g>
</g>
<g stroke-width="1.5" fill="none">
<polyline points="1137,662 1162,662 1162,582 1240,582" stroke="#f4a05a" marker-end="url(#ao)"/>
<polyline points="1162,662 1162,870 1240,870" stroke="#f4a05a" marker-end="url(#ao)"/>
<polyline points="1137,804 1182,804 1182,602 1240,602" stroke="#4bacc6" marker-end="url(#ab)"/>
<polyline points="1182,804 1182,897 1240,897" stroke="#4bacc6" marker-end="url(#ab)"/>
<line x1="1433" y1="595" x2="1503" y2="595" stroke="#f4a05a" marker-end="url(#ao)"/>
<line x1="1433" y1="885" x2="1503" y2="885" stroke="#4bacc6" marker-end="url(#ab)"/>
</g>
<circle cx="1162" cy="662" r="3.5" fill="#f4a05a"/><circle cx="1182" cy="804" r="4.5" fill="#4bacc6"/>
<rect x="1241" y="572" width="192" height="46" fill="#f2f2f2" stroke="#000"/><text x="1337" y="603" font-size="22" text-anchor="middle" font-family="Liberation Sans, sans-serif">Cross Interaction</text>
<rect x="1241" y="862" width="192" height="46" fill="#f2f2f2" stroke="#000"/><text x="1337" y="893" font-size="22" text-anchor="middle" font-family="Liberation Sans, sans-serif">Cross Interaction</text>
<rect x="1192" y="621" width="306" height="236" fill="#f2f2f2" stroke="#000" stroke-width="1"/>
<line x1="1192" y1="857" x2="1241" y2="862" stroke="#000" stroke-dasharray="2,2"/><line x1="1498" y1="857" x2="1433" y2="862" stroke="#000" stroke-dasharray="2,2"/>
<g stroke="#000" stroke-width="1" fill="#a6a6a6">
<rect x="1241" y="630" width="40" height="20"/><rect x="1241" y="666" width="40" height="20"/><rect x="1241" y="701" width="40" height="20"/>
<rect x="1241" y="737" width="40" height="20"/><rect x="1241" y="776" width="40" height="20"/><rect x="1241" y="815" width="40" height="20"/>
<rect x="1359" y="776" width="38" height="20"/>
<rect x="1453" y="626" width="30" height="100"/><rect x="1453" y="742" width="30" height="100"/>
</g>
<g font-size="14" font-style="italic" text-anchor="middle"><text x="1261" y="645">w<tspan font-size="9" dy="3">v</tspan></text><text x="1261" y="681">w<tspan font-size="9" dy="3">k</tspan></text><text x="1261" y="716">w<tspan font-size="9" dy="3">q</tspan></text><text x="1261" y="752">w<tspan font-size="9" dy="3">v</tspan></text><text x="1261" y="791">w<tspan font-size="9" dy="3">k</tspan></text><text x="1261" y="830">w<tspan font-size="9" dy="3">q</tspan></text><text x="1378" y="791">w<tspan font-size="9" dy="3">l</tspan></text></g>
<text transform="translate(1473,676) rotate(90)" font-size="16" text-anchor="middle">Layer Norm</text>
<text transform="translate(1473,792) rotate(90)" font-size="16" text-anchor="middle">Layer Norm</text>
<polygon points="1355,640 1368,628 1380,628 1380,690 1367,702 1355,702" fill="#fff" stroke="#000"/><text transform="translate(1371,665) rotate(90)" font-size="14" font-style="italic" text-anchor="middle">softmax</text>
<g fill="#fff" stroke="#000" stroke-width="1.5">
<circle cx="1307" cy="654" r="10"/><circle cx="1430" cy="662" r="10"/><circle cx="1333" cy="787" r="10"/><circle cx="1307" cy="825" r="10"/><circle cx="1428" cy="787" r="10"/>
</g>
<path d="M1300,647l14,14M1314,647l-14,14M1300,818l14,14M1314,818l-14,14M1420,662h20M1430,652v20M1323,787h20M1333,777v20M1418,787h20M1428,777v20" stroke="#000" stroke-width="1.5"/>
<g stroke-width="1.5" fill="none">
<polyline points="1202,640 1202,660" stroke="#f4a05a"/>
<polyline points="1202,645 1220,645 1220,640 1240,640" stroke="#f4a05a" marker-end="url(#ao)"/>
<polyline points="1220,645 1220,676 1240,676" stroke="#f4a05a" marker-end="url(#ao)"/>
<polyline points="1202,711 1240,711" stroke="#4bacc6" marker-end="url(#ab)"/>
<polyline points="1281,640 1307,640 1307,644" stroke="#f4a05a" marker-end="url(#ao)"/>
<polyline points="1281,676 1307,676 1307,665" stroke="#f4a05a" marker-end="url(#ao)"/>
<polyline points="1317,654 1355,654" stroke="#000" marker-end="url(#ak)"/>
<polyline points="1380,662 1419,662" stroke="#000" marker-end="url(#ak)"/>
<polyline points="1430,672 1430,711 1281,711" stroke="#4bacc6"/>
<polyline points="1440,662 1452,662" stroke="#000" marker-end="url(#ak)"/>
<polyline points="1202,770 1220,770 1220,747 1240,747" stroke="#f4a05a" marker-end="url(#ao)"/>
<polyline points="1220,770 1220,786 1240,786" stroke="#f4a05a" marker-end="url(#ao)"/>
<polyline points="1202,812 1220,812 1220,825 1240,825" stroke="#4bacc6" marker-end="url(#ab)"/>
<polyline points="1281,747 1333,747 1333,776" stroke="#f4a05a" marker-end="url(#ao)"/>
<polyline points="1281,786 1307,786 1307,814" stroke="#f4a05a" marker-end="url(#ao)"/>
<polyline points="1317,825 1333,825 1333,798" stroke="#000" marker-end="url(#ak)"/>
<line x1="1343" y1="787" x2="1358" y2="787" stroke="#000" marker-end="url(#ak)"/>
<line x1="1397" y1="787" x2="1417" y2="787" stroke="#000" marker-end="url(#ak)"/>
<line x1="1438" y1="787" x2="1452" y2="787" stroke="#000" marker-end="url(#ak)"/>
<polyline points="1202,825 1202,850 1428,850 1428,798" stroke="#4bacc6"/>
</g>
<g stroke="#f07020" stroke-width="2"><circle cx="1202" cy="662" r="5" fill="#00a050"/><circle cx="1202" cy="711" r="5" fill="#00b0f0"/><circle cx="1202" cy="768" r="5" fill="#00b0f0"/><circle cx="1202" cy="812" r="5" fill="#00b0f0"/></g>
<text x="1512" y="605" font-size="24" font-style="italic">f′<tspan font-size="12" dy="6">0</tspan></text>
<text x="1508" y="895" font-size="24" font-style="italic">f′<tspan font-size="12" dy="6">1</tspan></text>
<text x="1028" y="948" font-size="27"><tspan font-weight="bold">CBGI:</tspan> Cross Bipartite Graph Interaction</text>
</svg>
</body></html>
